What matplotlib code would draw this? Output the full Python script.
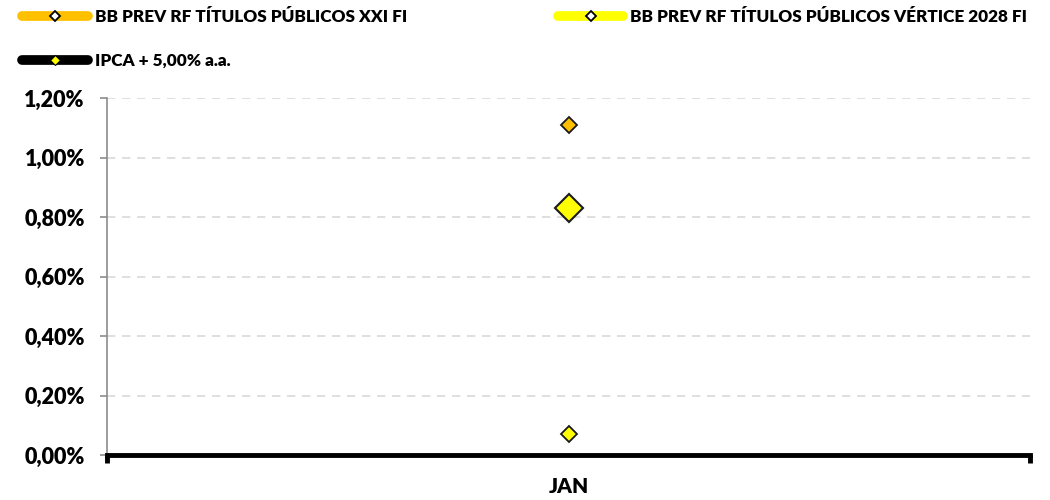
import matplotlib
matplotlib.use("Agg")
import matplotlib.pyplot as plt
from matplotlib.lines import Line2D
from matplotlib.ticker import FuncFormatter

plt.rcParams['font.family'] = ['Lato', 'DejaVu Sans']
plt.rcParams['font.weight'] = 'heavy'

# Dados do gráfico
meses = ['JAN']
series = ['BB PREV RF TÍTULOS PÚBLICOS XXI FI',
          'BB PREV RF TÍTULOS PÚBLICOS VÉRTICE 2028 FI',
          'IPCA + 5,00% a.a.']
xxi = [1.11]
vertice = [0.07]
ipca = [0.83]
yticks = [0.0, 0.2, 0.4, 0.6, 0.8, 1.0, 1.2]

cor_xxi = '#FFC000'
cor_vert = '#FFFF00'
cor_ipca = '#000000'

fig = plt.figure(figsize=(10.5, 5), dpi=100)
ax = fig.add_axes([0.102, 0.09, 0.879, 0.714])

x = list(range(len(meses)))
ax.plot(x, xxi, ls='none', marker='D', ms=8, mfc=cor_xxi, mec='#1a1a1a', mew=1.3, zorder=4)
ax.plot(x, vertice, ls='none', marker='D', ms=8, mfc=cor_vert, mec='#1a1a1a', mew=1.3, zorder=4)
ax.plot(x, ipca, ls='none', marker='D', ms=14, mfc=cor_vert, mec='#1a1a1a', mew=1.5, zorder=4)

ax.set_xlim(-0.5, len(meses) - 0.5)
ax.set_ylim(0, 1.2)
ax.set_yticks(yticks)
ax.yaxis.set_major_formatter(FuncFormatter(lambda v, p: f'{v:.2f}%'.replace('.', ',')))
ax.set_xticks(x)
ax.set_xticklabels(meses)
ax.set_xticks([-0.5, len(meses) - 0.5], minor=True)

ax.grid(axis='y', color='#d9d9d9', ls=(0, (5, 4)), lw=1.2)
ax.set_axisbelow(True)

for s in ['top', 'right']:
    ax.spines[s].set_visible(False)
ax.spines['left'].set_color('#8c8c8c')
ax.spines['left'].set_linewidth(1.2)
ax.spines['bottom'].set_color('black')
ax.spines['bottom'].set_linewidth(3.5)
ax.spines['bottom'].set_zorder(5)

ax.tick_params(axis='y', colors='#8c8c8c', labelcolor='black', labelsize=15.5,
               length=5, width=1.2, pad=11)
ax.tick_params(axis='x', which='major', length=0, labelsize=15, pad=16)
ax.tick_params(axis='x', which='minor', length=6, width=3.5, color='black')

handles = [
    Line2D([], [], color=cor_xxi, lw=7, solid_capstyle='round', marker='D', ms=5,
           mfc='white', mec='black', mew=1.3),
    Line2D([], [], color=cor_ipca, lw=7, solid_capstyle='round', marker='D', ms=5,
           mfc=cor_vert, mec='black', mew=0.8),
    Line2D([], [], color=cor_vert, lw=7, solid_capstyle='round', marker='D', ms=5,
           mfc='white', mec='black', mew=1.3),
]
labels = [series[0], series[2], series[1]]
leg = fig.legend(handles, labels, loc='upper left', bbox_to_anchor=(0.010, 1.006), ncol=2,
                 frameon=False, fontsize=12.3, handlelength=3.85, handletextpad=0.4,
                 columnspacing=8.8, labelspacing=1.65, borderaxespad=0.3)

fig.savefig('out.png', dpi=100)
